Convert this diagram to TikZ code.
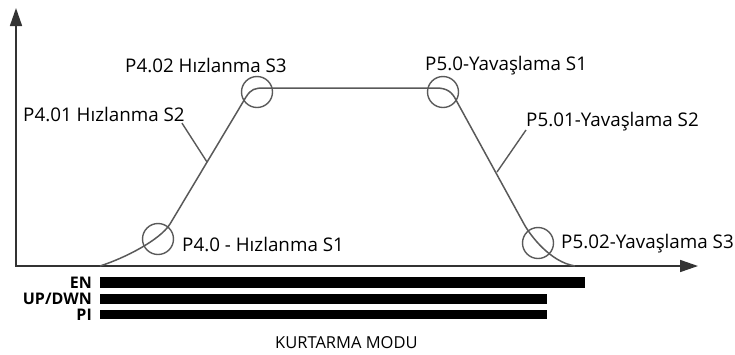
\documentclass[tikz,border=0pt]{standalone}
\usepackage{fontspec}
\setmainfont{Open Sans}
\usetikzlibrary{positioning,arrows.meta}

\begin{document}
\begin{tikzpicture}
[x=1pt, y=-1pt, font=\fontsize{18.8}{21}\selectfont,
    >={Triangle[length=18pt,width=12pt]},
    axis/.style={draw=black!80, line width=1.6pt},
    profile/.style={draw=black!65, line width=1.5pt},
    marker/.style={circle, draw=black!65, line width=1.4pt, minimum size=31pt, inner sep=0pt},
    leader/.style={draw=black!65, line width=1.4pt},
    lbl/.style={inner sep=0pt, anchor=base west},
    bar/.style={fill=black, inner sep=0pt, anchor=north west, minimum height=11pt},
    barlbl/.style={font=\fontsize{16}{18}\selectfont\bfseries, inner sep=0pt,
      text height=11.5pt, text depth=0pt},
    ]
    \useasboundingbox (0,0) rectangle (735,354);

    % axes
    \coordinate (origin) at (16,266);
    \coordinate (ytip) at (16,8);
    \coordinate (xstart) at (15,266);
    \coordinate (xtip) at (698,266);
    \draw[axis,->] (origin) -- (ytip);
    \draw[axis,->] (xstart) -- (xtip);

    % speed profile
    \coordinate (start) at (100,266);
    \coordinate (acc1) at (170,224);
    \coordinate (acc2) at (246,97);
    \coordinate (top1) at (264,88);
    \coordinate (top2) at (436,88);
    \coordinate (dec1) at (456,100);
    \coordinate (dec2) at (524,224);
    \coordinate (stop) at (575,266);
    \draw[profile] (start) .. controls (125,258) and (160,240) .. (acc1)
        -- (acc2) .. controls (251,89) and (255,88) .. (top1)
        -- (top2) .. controls (447,88) and (452,92) .. (dec1)
        -- (dec2) .. controls (530,235) and (550,262) .. (stop);

    % markers
    \node[marker] (s1) at (158,239) {};
    \node[marker] (s3) at (257,92) {};
    \node[marker] (y1) at (443,92) {};
    \node[marker] (y3) at (538,243) {};

    % labels
    \node[lbl] (s1lbl) at (182,251) {P4.0 - Hızlanma S1};
    \node[lbl] (s2lbl) at (23,121) {P4.01 Hızlanma S2};
    \node[lbl] (s3lbl) at (125,72) {P4.02 Hızlanma S3};
    \node[lbl] (y1lbl) at (425,70) {P5.0-Yavaşlama S1};
    \node[lbl] (y2lbl) at (526,126) {P5.01-Yavaşlama S2};
    \node[lbl] (y3lbl) at (561,248) {P5.02-Yavaşlama S3};

    % leaders
    \coordinate (s2pt) at (207,162);
    \coordinate (y2pt) at (497,172);
    \draw[leader] ([xshift=-3pt,yshift=-2pt]s2lbl.base east) -- (s2pt);
    \draw[leader] ([yshift=-4pt]y2lbl.base west) -- (y2pt);

    % signals
    \node[bar, minimum width=485pt] (en) at (100,277) {};
    \node[bar, minimum width=447pt, minimum height=10pt] (updwn) at (100,294) {};
    \node[bar, minimum width=447pt, minimum height=9pt] (pi) at (100,310) {};
    \node[barlbl, left=8pt of en] {EN};
    \node[barlbl, left=8pt of updwn] {UP/DWN};
    \node[barlbl, left=8pt of pi] {PI};

    \node[lbl, font=\fontsize{16.5}{18}\selectfont] (mode) at (275,348) {KURTARMA MODU};
\end{tikzpicture}
\end{document}
